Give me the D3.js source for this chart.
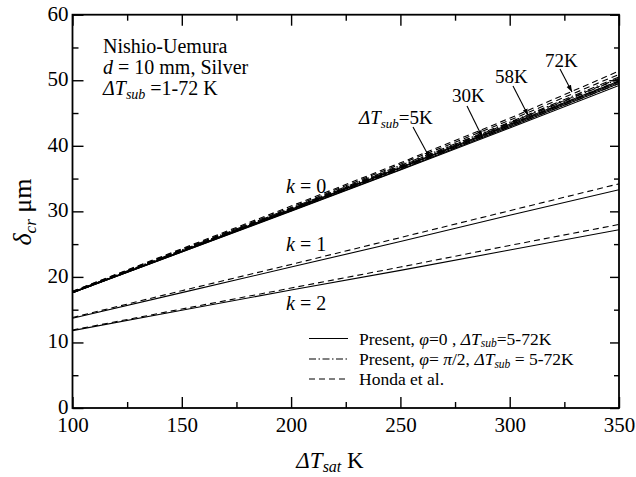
<!DOCTYPE html>
<html>
<head>
<meta charset="utf-8">
<script src="https://cdn.jsdelivr.net/npm/d3@7"></script>
<style>
  html, body { margin: 0; padding: 0; background: #fff; }
  svg { display: block; }
  text { font-family: "Liberation Serif", "Times New Roman", Times, serif; fill: #000; }
</style>
</head>
<body>
<svg id="chart" width="636" height="477"></svg>
<script>
// Superheat values (ΔTsat, K) at which each curve is tabulated
const dTsat = [100, 150, 200, 250, 300, 350];
// Subcooling levels (ΔTsub, K) for the k = 0 family
const subcooling = [5, 30, 58, 72];

// k = 0, present model, φ = 0 (one row per subcooling level)
const k0Phi0 = [
  [17.6, 23.8, 30.0, 36.3, 42.7, 49.2],
  [17.6, 23.8, 30.1, 36.4, 42.9, 49.5],
  [17.6, 23.9, 30.2, 36.6, 43.1, 49.7],
  [17.7, 23.9, 30.3, 36.7, 43.3, 49.9]
];
// k = 0, present model, φ = π/2
const k0PhiHalfPi = [
  [17.6, 23.9, 30.1, 36.5, 42.9, 49.5],
  [17.6, 23.9, 30.2, 36.6, 43.1, 49.8],
  [17.7, 24.0, 30.4, 36.8, 43.4, 50.2],
  [17.7, 24.1, 30.5, 37.0, 43.6, 50.5]
];
// k = 0, Honda et al.
const k0Honda = [
  [17.7, 24.0, 30.3, 36.7, 43.2, 49.9],
  [17.7, 24.1, 30.4, 36.9, 43.5, 50.3],
  [17.8, 24.2, 30.6, 37.2, 43.9, 50.9],
  [17.8, 24.3, 30.8, 37.4, 44.2, 51.4]
];
// k = 1 and k = 2
const k1Present = [13.7, 17.6, 21.5, 25.4, 29.4, 33.3];
const k1Honda   = [13.8, 17.9, 21.9, 26.0, 30.1, 34.2];
const k2Present = [11.8, 14.9, 18.0, 21.0, 24.1, 27.2];
const k2Honda   = [11.9, 15.1, 18.3, 21.5, 24.8, 28.0];

// Axis ticks
const xMajor = [100, 150, 200, 250, 300, 350];
const xMinor = [125, 175, 225, 275, 325];
const yMajor = [0, 10, 20, 30, 40, 50, 60];
const yMinor = [5, 15, 25, 35, 45, 55];

// Arrow callouts: label and arrow tip [ΔTsat, δcr]
const calloutLabels = ["5K", "30K", "58K", "72K"];
const calloutTips = [[263.5, 38.1], [287.5, 41.3], [308.5, 44.6], [328.5, 48.2]];

const svg = d3.select("#chart");
const L = 72.5, R = 619, T = 14.7, B = 408;
const x = d3.scaleLinear().domain([100, 350]).range([L, R]);
const y = d3.scaleLinear().domain([0, 60]).range([B, T]);

const defs = svg.append("defs");
defs.append("clipPath").attr("id", "plot")
  .append("rect").attr("x", L).attr("y", T).attr("width", R - L).attr("height", B - T);
defs.append("marker").attr("id", "arrow")
  .attr("viewBox", "0 0 10 10").attr("refX", 10).attr("refY", 5)
  .attr("markerWidth", 7).attr("markerHeight", 7).attr("orient", "auto")
  .attr("markerUnits", "userSpaceOnUse")
  .append("path").attr("d", "M0,1.5 L10,5 L0,8.5 Z").attr("fill", "#000");

// ---- data lines ----
const line = d3.line().x((d, i) => x(dTsat[i])).y(d => y(d));
const g = svg.append("g").attr("clip-path", "url(#plot)");
const styles = {
  solid: null,
  dashdot: "7,2.5,1.5,2.5",
  dashed: "6,4"
};
function draw(vals, style) {
  g.append("path").datum(vals).attr("d", line)
    .attr("fill", "none").attr("stroke", "#000").attr("stroke-width", 1.1)
    .attr("stroke-dasharray", styles[style]);
}
k0Phi0.forEach(v => draw(v, "solid"));
k0PhiHalfPi.forEach(v => draw(v, "dashdot"));
k0Honda.forEach(v => draw(v, "dashed"));
draw(k1Present, "solid"); draw(k1Honda, "dashed");
draw(k2Present, "solid"); draw(k2Honda, "dashed");

// ---- axes (inward ticks on all four sides) ----
function axisGroup(axis, tx, ty) {
  const a = svg.append("g").attr("transform", `translate(${tx},${ty})`).call(axis);
  a.selectAll(".domain").remove();
  a.selectAll("line").attr("stroke", "#000").attr("stroke-width", 1.4);
  a.attr("font-family", null);
  a.selectAll("text").attr("font-size", 21).attr("fill", "#000");
  return a;
}
axisGroup(d3.axisBottom(x).tickValues(xMajor).tickSize(-11).tickPadding(9).tickFormat(d3.format("d")), 0, B);
axisGroup(d3.axisBottom(x).tickValues(xMinor).tickSize(-6).tickFormat(""), 0, B);
axisGroup(d3.axisTop(x).tickValues(xMajor).tickSize(-11).tickFormat(""), 0, T);
axisGroup(d3.axisTop(x).tickValues(xMinor).tickSize(-6).tickFormat(""), 0, T);
const yAx = axisGroup(d3.axisLeft(y).tickValues(yMajor).tickSize(-11).tickPadding(4).tickFormat(d3.format("d")), L, 0);
yAx.selectAll("text").attr("dy", "0.26em");
axisGroup(d3.axisLeft(y).tickValues(yMinor).tickSize(-6).tickFormat(""), L, 0);
axisGroup(d3.axisRight(y).tickValues(yMajor).tickSize(-9).tickFormat(""), R, 0);
axisGroup(d3.axisRight(y).tickValues(yMinor).tickSize(-5).tickFormat(""), R, 0);

svg.append("rect").attr("x", L).attr("y", T).attr("width", R - L).attr("height", B - T)
  .attr("fill", "none").attr("stroke", "#000").attr("stroke-width", 1.8);

// ---- axis titles ----
const xt = svg.append("text").attr("x", 330).attr("y", 468).attr("text-anchor", "middle").attr("font-size", 23);
xt.append("tspan").attr("font-style", "italic").text("ΔT");
xt.append("tspan").attr("font-style", "italic").attr("font-size", 16).attr("dy", 4).text("sat");
xt.append("tspan").attr("dy", -4).text(" K");

const yt = svg.append("text").attr("transform", "translate(31,212) rotate(-90)")
  .attr("text-anchor", "middle").attr("font-size", 26);
yt.append("tspan").attr("font-style", "italic").text("δ");
yt.append("tspan").attr("font-style", "italic").attr("font-size", 17).attr("dy", 5).text("cr");
yt.append("tspan").attr("dy", -5).text(" μm");

// ---- condition block ----
const info = svg.append("g").attr("font-size", 20);
info.append("text").attr("x", 103).attr("y", 53).text("Nishio-Uemura");
const t2 = info.append("text").attr("x", 103).attr("y", 74);
t2.append("tspan").attr("font-style", "italic").text("d");
t2.append("tspan").text(" = 10 mm, Silver");
const t3 = info.append("text").attr("x", 103).attr("y", 95);
t3.append("tspan").attr("font-style", "italic").text("ΔT");
t3.append("tspan").attr("font-style", "italic").attr("font-size", 14).attr("dy", 4).text("sub");
t3.append("tspan").attr("dy", -4).text(" =1-72 K");

// ---- k labels ----
[["0", 193], ["1", 251], ["2", 310]].forEach(([k, yy]) => {
  const t = svg.append("text").attr("x", 286).attr("y", yy).attr("font-size", 20);
  t.append("tspan").attr("font-style", "italic").text("k");
  t.append("tspan").text(" = " + k);
});

// ---- subcooling callouts ----
const textPos = [[359, 124], [452, 102], [495, 83], [545, 67]];
const tailPos = [[413, 127], [467, 106], [513, 86], [560, 69]];
calloutLabels.forEach((lab, i) => {
  const t = svg.append("text").attr("x", textPos[i][0]).attr("y", textPos[i][1]).attr("font-size", 19);
  if (i === 0) {
    t.append("tspan").attr("font-style", "italic").text("ΔT");
    t.append("tspan").attr("font-style", "italic").attr("font-size", 13).attr("dy", 4).text("sub");
    t.append("tspan").attr("dy", -4).text("=" + lab);
  } else {
    t.text(lab);
  }
  svg.append("line")
    .attr("x1", tailPos[i][0]).attr("y1", tailPos[i][1])
    .attr("x2", x(calloutTips[i][0])).attr("y2", y(calloutTips[i][1]))
    .attr("stroke", "#000").attr("stroke-width", 1.1).attr("marker-end", "url(#arrow)");
});

// ---- legend ----
const legend = svg.append("g").attr("font-size", 17.5);
const legRows = [
  { style: "solid", y: 338.5, parts: [["Present, ", null], ["φ", "i"], ["=0 , ", null], ["ΔT", "i"], ["sub", "s"], ["=5-72K", null]] },
  { style: "dashdot", y: 359, parts: [["Present, ", null], ["φ", "i"], ["= ", null], ["π", "i"], ["/2, ", null], ["ΔT", "i"], ["sub", "s"], [" = 5-72K", null]] },
  { style: "dashed", y: 379, parts: [["Honda et al.", null]] }
];
legRows.forEach(r => {
  legend.append("line").attr("x1", 309).attr("x2", 348).attr("y1", r.y).attr("y2", r.y)
    .attr("stroke", "#000").attr("stroke-width", 1.1).attr("stroke-dasharray", styles[r.style]);
  const t = legend.append("text").attr("x", 359).attr("y", r.y + 6);
  let sub = false;
  r.parts.forEach(([s, f]) => {
    const sp = t.append("tspan").text(s);
    if (f === "i") sp.attr("font-style", "italic");
    if (f === "s") { sp.attr("font-style", "italic").attr("font-size", 11.5).attr("dy", 2.5); sub = true; }
    else if (sub) { sp.attr("dy", -2.5); sub = false; }
  });
});
</script>
</body>
</html>
